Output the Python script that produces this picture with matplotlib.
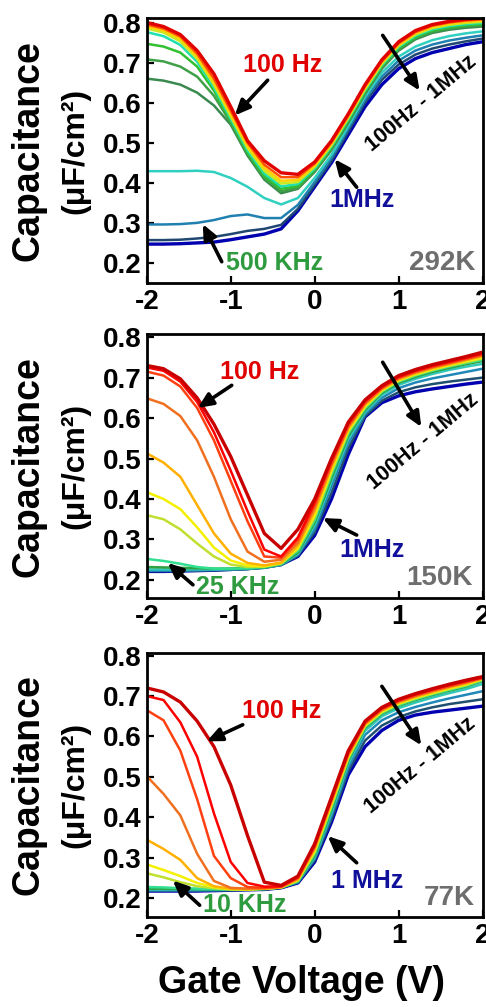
import matplotlib
matplotlib.use("Agg")
import matplotlib.pyplot as plt

plt.rcParams['font.family'] = ['Liberation Sans', 'DejaVu Sans']
plt.rcParams['font.weight'] = 'bold'

# gate voltage grid (V)
V = [-2.0, -1.8, -1.6, -1.4, -1.2, -1.0, -0.8, -0.6, -0.4, -0.2, 0.0,
     0.2, 0.4, 0.6, 0.8, 1.0, 1.2, 1.4, 1.6, 1.8, 2.0]

# 292K, 100 Hz -> 1 MHz
C292 = [
    [0.800, 0.790, 0.770, 0.730, 0.672, 0.590, 0.505, 0.455, 0.425, 0.421, 0.452, 0.505, 0.572, 0.645, 0.707, 0.752, 0.780, 0.795, 0.803, 0.808, 0.811],
    [0.795, 0.785, 0.765, 0.722, 0.660, 0.580, 0.500, 0.445, 0.414, 0.414, 0.448, 0.501, 0.568, 0.641, 0.703, 0.748, 0.776, 0.792, 0.800, 0.805, 0.808],
    [0.790, 0.780, 0.759, 0.716, 0.652, 0.572, 0.493, 0.437, 0.405, 0.407, 0.444, 0.497, 0.565, 0.637, 0.700, 0.745, 0.773, 0.789, 0.797, 0.802, 0.805],
    [0.785, 0.775, 0.753, 0.710, 0.645, 0.566, 0.487, 0.430, 0.398, 0.402, 0.440, 0.494, 0.562, 0.634, 0.697, 0.742, 0.770, 0.786, 0.794, 0.799, 0.802],
    [0.776, 0.766, 0.744, 0.702, 0.638, 0.560, 0.481, 0.423, 0.391, 0.397, 0.436, 0.491, 0.559, 0.631, 0.694, 0.739, 0.767, 0.783, 0.791, 0.796, 0.799],
    [0.747, 0.740, 0.725, 0.690, 0.630, 0.555, 0.476, 0.417, 0.385, 0.392, 0.433, 0.488, 0.556, 0.628, 0.691, 0.736, 0.764, 0.780, 0.788, 0.793, 0.796],
    [0.708, 0.703, 0.690, 0.665, 0.617, 0.550, 0.472, 0.412, 0.379, 0.388, 0.430, 0.485, 0.553, 0.625, 0.688, 0.733, 0.761, 0.777, 0.785, 0.790, 0.793],
    [0.660, 0.655, 0.645, 0.625, 0.593, 0.545, 0.468, 0.408, 0.374, 0.385, 0.427, 0.482, 0.550, 0.622, 0.685, 0.730, 0.758, 0.774, 0.782, 0.787, 0.790],
    [0.429, 0.429, 0.429, 0.430, 0.427, 0.412, 0.390, 0.362, 0.346, 0.362, 0.412, 0.470, 0.542, 0.615, 0.675, 0.715, 0.740, 0.756, 0.766, 0.773, 0.778],
    [0.296, 0.296, 0.297, 0.300, 0.307, 0.317, 0.321, 0.312, 0.312, 0.345, 0.402, 0.462, 0.535, 0.607, 0.665, 0.705, 0.730, 0.745, 0.755, 0.762, 0.768],
    [0.257, 0.257, 0.258, 0.261, 0.265, 0.272, 0.280, 0.285, 0.295, 0.335, 0.395, 0.455, 0.528, 0.600, 0.657, 0.695, 0.720, 0.735, 0.745, 0.753, 0.760],
    [0.247, 0.247, 0.248, 0.250, 0.252, 0.258, 0.265, 0.272, 0.285, 0.330, 0.390, 0.450, 0.520, 0.590, 0.645, 0.685, 0.710, 0.725, 0.735, 0.745, 0.752],
]
COL292 = ['#e00000', '#ff5000', '#ffd000', '#c8e820', '#20e0b0', '#30c030',
          '#40a048', '#3a8a50', '#30d0c0', '#2080b0', '#204870', '#0000b0']

# 150K
C150 = [
    [0.730, 0.722, 0.697, 0.650, 0.585, 0.505, 0.410, 0.315, 0.278, 0.325, 0.400, 0.500, 0.590, 0.645, 0.680, 0.705, 0.720, 0.732, 0.742, 0.752, 0.763],
    [0.725, 0.717, 0.690, 0.640, 0.565, 0.470, 0.370, 0.275, 0.258, 0.305, 0.392, 0.495, 0.586, 0.642, 0.677, 0.702, 0.717, 0.729, 0.739, 0.749, 0.760],
    [0.715, 0.705, 0.678, 0.625, 0.545, 0.445, 0.345, 0.258, 0.255, 0.300, 0.386, 0.490, 0.582, 0.639, 0.675, 0.700, 0.715, 0.727, 0.737, 0.747, 0.757],
    [0.649, 0.635, 0.605, 0.545, 0.455, 0.350, 0.270, 0.245, 0.250, 0.292, 0.378, 0.484, 0.578, 0.636, 0.673, 0.698, 0.713, 0.725, 0.735, 0.745, 0.755],
    [0.513, 0.490, 0.455, 0.385, 0.315, 0.265, 0.242, 0.236, 0.243, 0.285, 0.370, 0.478, 0.574, 0.633, 0.671, 0.696, 0.711, 0.723, 0.733, 0.743, 0.753],
    [0.417, 0.400, 0.375, 0.330, 0.280, 0.248, 0.236, 0.234, 0.242, 0.280, 0.362, 0.472, 0.570, 0.630, 0.669, 0.694, 0.709, 0.721, 0.731, 0.741, 0.750],
    [0.360, 0.350, 0.325, 0.290, 0.258, 0.238, 0.232, 0.233, 0.241, 0.276, 0.355, 0.466, 0.566, 0.627, 0.667, 0.692, 0.707, 0.719, 0.729, 0.738, 0.747],
    [0.252, 0.247, 0.240, 0.232, 0.228, 0.228, 0.229, 0.232, 0.240, 0.272, 0.348, 0.460, 0.562, 0.624, 0.665, 0.690, 0.705, 0.717, 0.727, 0.736, 0.744],
    [0.232, 0.231, 0.230, 0.229, 0.228, 0.228, 0.229, 0.231, 0.239, 0.268, 0.342, 0.452, 0.556, 0.620, 0.662, 0.687, 0.702, 0.714, 0.724, 0.733, 0.741],
    [0.226, 0.226, 0.226, 0.226, 0.226, 0.227, 0.228, 0.231, 0.238, 0.265, 0.335, 0.443, 0.548, 0.615, 0.657, 0.682, 0.697, 0.709, 0.719, 0.727, 0.734],
    [0.223, 0.223, 0.223, 0.224, 0.225, 0.226, 0.227, 0.230, 0.237, 0.262, 0.326, 0.432, 0.538, 0.610, 0.650, 0.674, 0.688, 0.698, 0.706, 0.714, 0.722],
    [0.222, 0.222, 0.222, 0.223, 0.224, 0.225, 0.227, 0.230, 0.237, 0.260, 0.318, 0.415, 0.525, 0.605, 0.643, 0.664, 0.676, 0.684, 0.690, 0.695, 0.700],
    [0.221, 0.221, 0.222, 0.223, 0.224, 0.226, 0.228, 0.232, 0.238, 0.258, 0.310, 0.400, 0.510, 0.603, 0.638, 0.655, 0.665, 0.672, 0.678, 0.684, 0.689],
]

# 77K
C77 = [
    [0.720, 0.710, 0.685, 0.638, 0.575, 0.480, 0.355, 0.240, 0.232, 0.255, 0.335, 0.450, 0.565, 0.638, 0.672, 0.692, 0.706, 0.718, 0.729, 0.739, 0.748],
    [0.700, 0.690, 0.635, 0.550, 0.410, 0.290, 0.238, 0.229, 0.230, 0.253, 0.332, 0.447, 0.562, 0.636, 0.670, 0.690, 0.704, 0.716, 0.727, 0.737, 0.746],
    [0.665, 0.640, 0.565, 0.445, 0.305, 0.250, 0.228, 0.226, 0.229, 0.251, 0.329, 0.444, 0.559, 0.634, 0.668, 0.688, 0.702, 0.714, 0.725, 0.735, 0.745],
    [0.502, 0.458, 0.405, 0.310, 0.243, 0.226, 0.224, 0.225, 0.228, 0.249, 0.326, 0.441, 0.556, 0.632, 0.666, 0.686, 0.700, 0.712, 0.723, 0.733, 0.744],
    [0.345, 0.322, 0.295, 0.250, 0.230, 0.224, 0.223, 0.224, 0.228, 0.247, 0.322, 0.437, 0.553, 0.630, 0.664, 0.684, 0.698, 0.710, 0.721, 0.731, 0.743],
    [0.284, 0.270, 0.255, 0.238, 0.228, 0.223, 0.222, 0.224, 0.227, 0.245, 0.318, 0.433, 0.550, 0.628, 0.662, 0.682, 0.696, 0.708, 0.719, 0.729, 0.742],
    [0.262, 0.252, 0.240, 0.230, 0.225, 0.222, 0.222, 0.224, 0.227, 0.244, 0.314, 0.429, 0.547, 0.626, 0.660, 0.680, 0.694, 0.706, 0.717, 0.727, 0.741],
    [0.228, 0.227, 0.225, 0.224, 0.223, 0.222, 0.222, 0.224, 0.227, 0.243, 0.310, 0.424, 0.544, 0.624, 0.658, 0.678, 0.692, 0.704, 0.715, 0.725, 0.739],
    [0.224, 0.224, 0.223, 0.223, 0.222, 0.222, 0.222, 0.223, 0.227, 0.242, 0.306, 0.419, 0.540, 0.621, 0.656, 0.676, 0.690, 0.702, 0.713, 0.723, 0.737],
    [0.222, 0.222, 0.222, 0.222, 0.222, 0.222, 0.222, 0.223, 0.227, 0.241, 0.302, 0.412, 0.533, 0.614, 0.650, 0.670, 0.684, 0.696, 0.707, 0.717, 0.730],
    [0.220, 0.220, 0.220, 0.220, 0.220, 0.221, 0.221, 0.223, 0.227, 0.240, 0.298, 0.404, 0.524, 0.604, 0.640, 0.660, 0.673, 0.684, 0.694, 0.703, 0.712],
    [0.219, 0.219, 0.219, 0.219, 0.220, 0.220, 0.221, 0.222, 0.226, 0.239, 0.294, 0.395, 0.514, 0.590, 0.627, 0.648, 0.662, 0.672, 0.680, 0.686, 0.692],
    [0.218, 0.218, 0.218, 0.218, 0.219, 0.220, 0.221, 0.222, 0.226, 0.238, 0.290, 0.388, 0.505, 0.575, 0.615, 0.640, 0.653, 0.660, 0.665, 0.670, 0.675],
]
COL13 = ['#c80000', '#ff0000', '#ff4010', '#f07020', '#ffb000', '#f5f000',
         '#c0e030', '#30e090', '#30a040', '#30c8b8', '#2088b8', '#205070', '#0000b0']

TEMPS = ['292K', '150K', '77K']
LOW_LABELS = ['500 KHz', '25 KHz', '10 KHz']
HIGH_LABELS = ['1MHz', '1MHz', '1 MHz']
YTICKS = [0.2, 0.3, 0.4, 0.5, 0.6, 0.7, 0.8]
XTICKS = [-2, -1, 0, 1, 2]

RED = '#e00000'
BLUE = '#10109a'
GREEN = '#2e9b3e'
GRAY = '#6e6e6e'

fig = plt.figure(figsize=(4.86, 10.07), dpi=100)
boxes = [[0.302, 0.719, 0.691, 0.263],
         [0.302, 0.406, 0.691, 0.262],
         [0.302, 0.0894, 0.691, 0.262]]
ylims = [(0.150, 0.811), (0.155, 0.807), (0.154, 0.806)]
data = [(C292, COL292), (C150, COL13), (C77, COL13)]

# annotation spots, per panel: (text pos, arrow tail, arrow tip)
hz100 = [((-0.38, 0.693), (-0.56, 0.656), (-0.952, 0.568)),
         ((-0.655, 0.714), (-0.988, 0.681), (-1.393, 0.625)),
         ((-0.393, 0.663), (-0.857, 0.629), (-1.286, 0.588))]
mhz1 = [((0.56, 0.357), (0.50, 0.389), (0.238, 0.459)),
        ((0.68, 0.274), (0.50, 0.311), (0.095, 0.353)),
        ((0.62, 0.244), (0.50, 0.288), (0.155, 0.354))]
lowf = [((-0.476, 0.200), (-1.107, 0.203), (-1.333, 0.297)),
        ((-0.917, 0.183), (-1.45, 0.188), (-1.75, 0.242)),
        ((-0.833, 0.183), (-1.37, 0.183), (-1.69, 0.244))]
sweep = [((1.27, 0.598), (0.81, 0.768), (1.25, 0.630)),
         ((1.29, 0.541), (0.81, 0.738), (1.27, 0.578)),
         ((1.26, 0.529), (0.80, 0.724), (1.27, 0.578))]
tpos = [(1.52, 0.200), (1.49, 0.205), (1.60, 0.202)]


def arrow(ax, tail, tip):
    ax.annotate('', xy=tip, xytext=tail,
                arrowprops=dict(arrowstyle='-|>,head_length=0.9,head_width=0.4',
                                color='black', lw=2.6, shrinkA=0, shrinkB=0))


for i in range(3):
    ax = fig.add_axes(boxes[i])
    curves, cols = data[i]
    for k in range(len(curves) - 1, -1, -1):
        lw = 2.4 if k in (0, len(curves) - 1) else 1.8
        ax.plot(V, curves[k], color=cols[k], lw=lw, solid_capstyle='round',
                solid_joinstyle='round')
    ax.set_xlim(-2, 2)
    ax.set_ylim(*ylims[i])
    ax.set_xticks(XTICKS)
    ax.set_yticks(YTICKS)
    ax.set_xticklabels([str(t) for t in XTICKS])
    ax.set_yticklabels(['%.1f' % t for t in YTICKS])
    ax.tick_params(direction='in', length=5, width=1.6, labelsize=20, pad=4)
    for lab in ax.get_xticklabels() + ax.get_yticklabels():
        lab.set_fontweight('bold')
    for s in ax.spines.values():
        s.set_linewidth(2.0)

    ax.text(-0.351, 0.5, 'Capacitance', transform=ax.transAxes, rotation=90,
            ha='center', va='center', fontsize=27, fontweight='bold')
    ax.text(-0.214, 0.5, '(μF/cm²)', transform=ax.transAxes, rotation=90,
            ha='center', va='center', fontsize=23, fontweight='bold')

    t, a, b = hz100[i]
    ax.text(t[0], t[1], '100 Hz', color=RED, fontsize=18, fontweight='bold',
            ha='center', va='center')
    arrow(ax, a, b)
    t, a, b = mhz1[i]
    ax.text(t[0], t[1], HIGH_LABELS[i], color=BLUE, fontsize=18, fontweight='bold',
            ha='center', va='center')
    arrow(ax, a, b)
    t, a, b = lowf[i]
    ax.text(t[0], t[1], LOW_LABELS[i], color=GREEN, fontsize=18, fontweight='bold',
            ha='center', va='center')
    arrow(ax, a, b)
    t, a, b = sweep[i]
    ax.text(t[0], t[1], '100Hz - 1MHz', color='black', fontsize=15.5, fontweight='bold',
            ha='center', va='center', rotation=40, rotation_mode='anchor')
    arrow(ax, a, b)
    ax.text(tpos[i][0], tpos[i][1], TEMPS[i], color=GRAY, fontsize=20,
            fontweight='bold', ha='center', va='center')

fig.text(302 / 486, 1 - 983 / 1007, 'Gate Voltage (V)', ha='center', va='center',
         fontsize=27, fontweight='bold')

fig.savefig('out.png', dpi=100)
